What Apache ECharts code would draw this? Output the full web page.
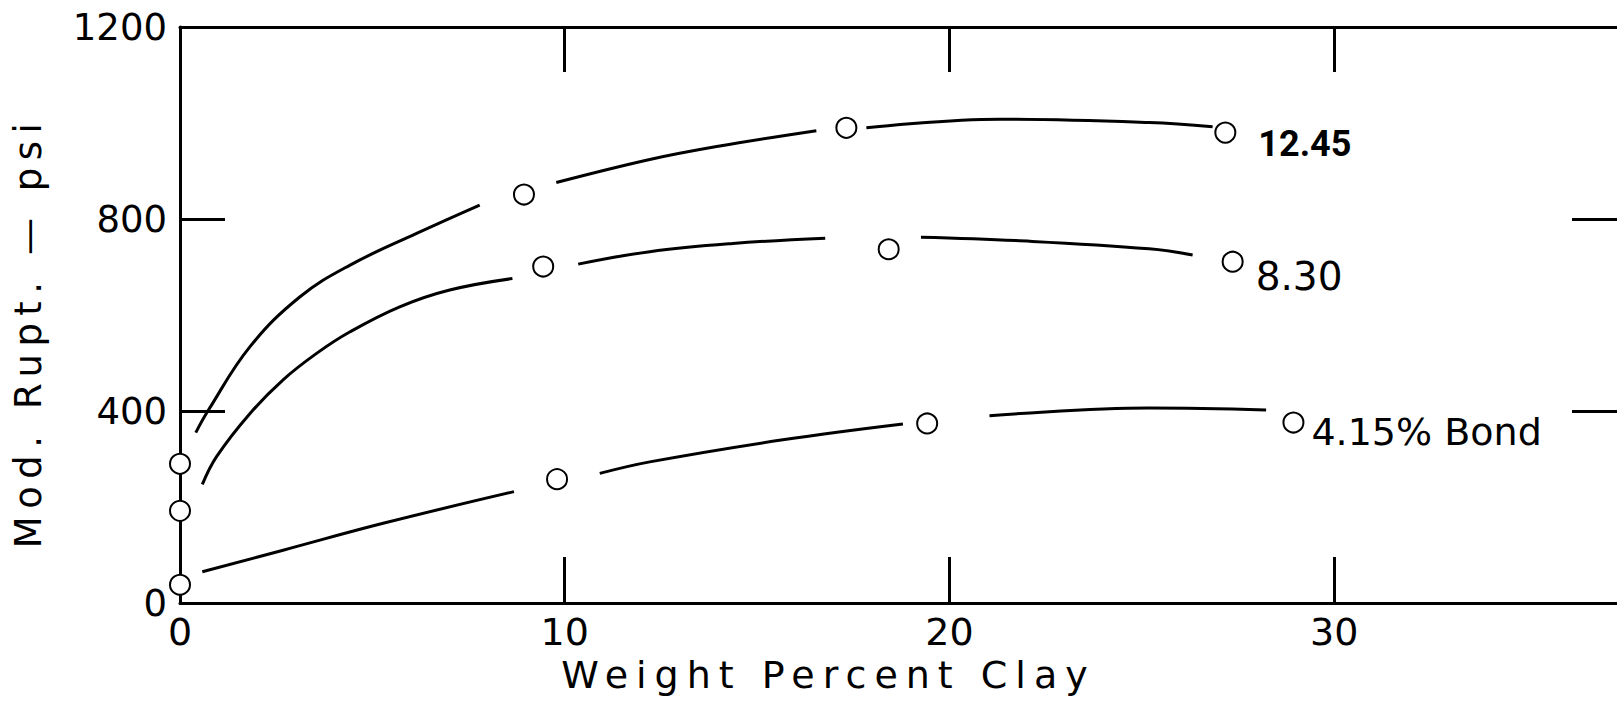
<!DOCTYPE html>
<html>
<head>
<meta charset="utf-8">
<script src="https://cdn.jsdelivr.net/npm/echarts@6/dist/echarts.min.js"></script>
<style>
  html, body { margin: 0; padding: 0; background: #fff; }
  #chart { width: 1617px; height: 705px; }
</style>
</head>
<body>
<div id="chart"></div>
<script>
// ---- data ----
const xTitle = 'Weight Percent Clay';
const yTitle = 'Mod. Rupt. \u2014 psi';
const seriesNames = ['12.45', '8.30', '4.15% Bond'];
const xTicks = [0, 10, 20, 30];
const yTicks = [0, 400, 800, 1200];
const xInnerTicks = [10, 20, 30];
const yInnerTicks = [400, 800];

// measured points (weight % clay, modulus of rupture psi)
const clay1245 = [0, 8.94, 17.32, 27.17];
const rupt1245 = [290, 851, 990, 980];
const clay830 = [0, 9.44, 18.42, 27.36];
const rupt830 = [192, 701, 737, 711];
const clay415 = [0, 9.80, 19.42, 28.94];
const rupt415 = [38, 258, 374, 376];

// hand-drawn curves; [x, null] marks a pen lift (gap at a marker)
const curve1245 = [[0.41, 355], [0.74, 402], [1.82, 534], [3.12, 638], [4.42, 704], [6.15, 770], [7.79, 829],
  [8.9, null],
  [9.78, 876], [12.21, 924], [13.95, 951], [16.54, 984],
  [17.3, null],
  [17.84, 990], [21.31, 1008], [25.19, 1001], [26.84, 992]];
const curve830 = [[0.58, 247], [0.95, 305], [1.82, 395], [2.68, 465], [3.55, 520], [4.42, 565], [5.71, 617], [7.01, 652], [8.64, 676],
  [9.4, null],
  [10.35, 706], [12.21, 732], [14.37, 749], [16.77, 760],
  [18.4, null],
  [19.26, 762], [21.73, 755], [25.19, 738], [26.32, 725]];
const curve415 = [[0.58, 65], [2.68, 110], [5.28, 166], [8.68, 232],
  [9.8, null],
  [10.91, 270], [12.21, 294], [15.67, 340], [18.79, 373],
  [19.4, null],
  [21.04, 390], [25.19, 406], [28.23, 402]];

const FONT = 'DejaVu Sans';
const zip = (xs, ys) => xs.map((x, i) => [x, ys[i]]);

function pointSeries(name, xs, ys, labelStyle) {
  const data = zip(xs, ys).map((p, i) => {
    const item = { value: p };
    if (i === xs.length - 1) {
      item.label = Object.assign({ show: true, position: 'right', formatter: name, color: '#000' }, labelStyle);
    }
    return item;
  });
  return {
    name: name, type: 'scatter', data: data,
    symbol: 'emptyCircle', symbolSize: 20,
    itemStyle: { color: '#000', borderColor: '#000', borderWidth: 3, opacity: 1 },
    label: { show: false },
    z: 5
  };
}
function curveSeries(name, data) {
  return {
    name: name + ' curve', type: 'line', data: data, smooth: 0.4, connectNulls: false,
    showSymbol: false, symbol: 'none',
    lineStyle: { color: '#000', width: 3 }, z: 3
  };
}

const axisLine = { show: true, onZero: false, lineStyle: { color: '#000', width: 3 } };
const tickStyle = (len, values) => ({ show: true, inside: true, length: len, customValues: values,
  lineStyle: { color: '#000', width: 3 } });
const X_MAX = 37.35;   // the frame is cropped at the right edge of the picture

const option = {
  animation: false,
  backgroundColor: '#fff',
  grid: { left: 180, right: 0, top: 27, bottom: 102, containLabel: false },
  xAxis: [
    {
      type: 'value', position: 'bottom', min: 0, max: X_MAX, interval: 10,
      axisLine: axisLine, axisTick: tickStyle(46, xInnerTicks), splitLine: { show: false },
      axisLabel: { color: '#000', fontFamily: FONT, fontSize: 38, margin: 10, customValues: xTicks,
        showMinLabel: true, showMaxLabel: true, hideOverlap: false,
        formatter: v => (xTicks.indexOf(v) >= 0 ? String(v) : '') },
      name: xTitle, nameLocation: 'middle', nameGap: 50,
      nameTextStyle: { color: '#000', fontFamily: FONT, fontSize: 38, padding: [0, 140, 0, 0] }
    },
    {
      type: 'value', position: 'top', min: 0, max: X_MAX, interval: 10,
      axisLine: axisLine, axisTick: tickStyle(45, xInnerTicks), splitLine: { show: false },
      axisLabel: { show: false, showMinLabel: true, showMaxLabel: true }
    }
  ],
  yAxis: [
    {
      type: 'value', position: 'left', min: 0, max: 1200, interval: 400,
      axisLine: axisLine, axisTick: tickStyle(45, yInnerTicks), splitLine: { show: false },
      axisLabel: { color: '#000', fontFamily: FONT, fontSize: 37, margin: 13, customValues: yTicks,
        showMinLabel: true, showMaxLabel: true,
        formatter: v => (yTicks.indexOf(v) >= 0 ? String(v) : '') },
      name: yTitle, nameLocation: 'middle', nameGap: 133,
      nameTextStyle: { color: '#000', fontFamily: FONT, fontSize: 37, padding: [0, 34, 0, 0] }
    },
    {
      type: 'value', position: 'right', min: 0, max: 1200, interval: 400,
      axisLine: { show: false, onZero: false }, axisTick: tickStyle(45, yInnerTicks), splitLine: { show: false },
      axisLabel: { show: false, showMinLabel: true, showMaxLabel: true }
    }
  ],
  series: [
    curveSeries(seriesNames[0], curve1245),
    curveSeries(seriesNames[1], curve830),
    curveSeries(seriesNames[2], curve415),
    pointSeries(seriesNames[0], clay1245, rupt1245,
      { fontFamily: 'Roboto', fontWeight: 'bold', fontSize: 36, offset: [17, 11] }),
    pointSeries(seriesNames[1], clay830, rupt830,
      { fontFamily: FONT, fontSize: 39, offset: [7, 15] }),
    pointSeries(seriesNames[2], clay415, rupt415,
      { fontFamily: FONT, fontSize: 38, offset: [2, 9] })
  ]
};

const chart = echarts.init(document.getElementById('chart'), null, { renderer: 'svg' });
chart.setOption(option);

// the original lettering is widely spaced; widen only the two axis titles
function spaceTitles() {
  document.querySelectorAll('#chart text').forEach(t => {
    if (t.textContent === xTitle) t.style.letterSpacing = '8px';
    if (t.textContent === yTitle) t.style.letterSpacing = '7.5px';
  });
}
spaceTitles();
chart.on('finished', spaceTitles);
</script>
</body>
</html>
